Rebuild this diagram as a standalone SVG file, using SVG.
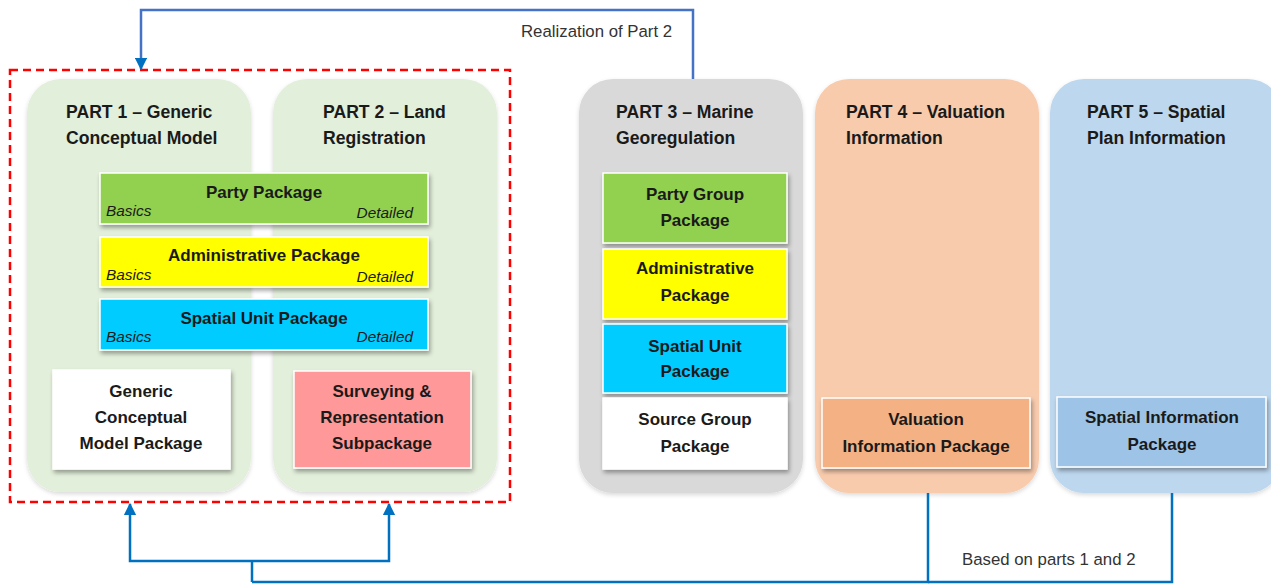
<svg xmlns="http://www.w3.org/2000/svg" width="1271" height="584" viewBox="0 0 1271 584">
<style>
.t{font-family:"Liberation Sans",Arial,sans-serif;font-weight:bold;font-size:17px;fill:#1a1a1a}
.h{font-size:17.6px}
.c{text-anchor:middle}
.i{font-family:"Liberation Sans",Arial,sans-serif;font-style:italic;font-size:15.4px;fill:#1a1a1a}
.lab{font-family:"Liberation Sans",Arial,sans-serif;font-size:16.8px;fill:#333}
.box{stroke:#fff;stroke-width:1.5;filter:url(#sh)}
.cont{filter:url(#csh)}
.wire{fill:none;stroke:#0070C0;stroke-width:2.5}
</style>
<defs>
<filter id="sh" x="-10%" y="-10%" width="130%" height="140%"><feDropShadow dx="1.5" dy="3" stdDeviation="2" flood-color="#000" flood-opacity="0.35"/></filter>
<filter id="csh" x="-10%" y="-10%" width="130%" height="130%"><feDropShadow dx="0" dy="2" stdDeviation="2" flood-color="#000" flood-opacity="0.15"/></filter>
<marker id="ah" viewBox="0 0 10 10" refX="9" refY="5" markerWidth="5" markerHeight="5" orient="auto-start-reverse"><path d="M0,0 L10,5 L0,10 z" fill="#0070C0"/></marker>
</defs>
<rect width="1271" height="584" fill="#fff"/>
<g id="part1"><rect class="cont" x="27" y="79" width="224" height="413" rx="34" fill="#E2EFDA"/><text class="t h" x="66" y="118">PART 1 – Generic</text><text class="t h" x="66" y="144">Conceptual Model</text></g>
<g id="part2"><rect class="cont" x="273" y="79" width="224" height="413" rx="34" fill="#E2EFDA"/><text class="t h" x="323" y="118">PART 2 – Land</text><text class="t h" x="323" y="144">Registration</text></g>
<g id="part3"><rect class="cont" x="579" y="79" width="224" height="414" rx="34" fill="#D9D9D9"/><text class="t h" x="616" y="118">PART 3 – Marine</text><text class="t h" x="616" y="144">Georegulation</text></g>
<g id="part4"><rect class="cont" x="815" y="79" width="224" height="414" rx="34" fill="#F8CBAD"/><text class="t h" x="846" y="118">PART 4 – Valuation</text><text class="t h" x="846" y="144">Information</text></g>
<g id="part5"><rect class="cont" x="1050" y="79" width="232" height="414" rx="34" fill="#BDD7EE"/><text class="t h" x="1087" y="118">PART 5 – Spatial</text><text class="t h" x="1087" y="144">Plan Information</text></g>
<g id="boundary"><rect x="10" y="70" width="500" height="432" fill="none" stroke="#FF0000" stroke-width="2.5" stroke-dasharray="8,5"/></g>
<g id="party-package"><rect class="box" x="100" y="173" width="328" height="51" fill="#92D050"/><text class="t c" x="264" y="198">Party Package</text><text class="i" x="106" y="216">Basics</text><text class="i" x="413" y="218" text-anchor="end">Detailed</text></g>
<g id="administrative-package"><rect class="box" x="100" y="237" width="328" height="50" fill="#FFFF00"/><text class="t c" x="264" y="261">Administrative Package</text><text class="i" x="106" y="280">Basics</text><text class="i" x="413" y="282" text-anchor="end">Detailed</text></g>
<g id="spatial-unit-package"><rect class="box" x="100" y="299" width="328" height="51" fill="#00CCFF"/><text class="t c" x="264" y="324">Spatial Unit Package</text><text class="i" x="106" y="342">Basics</text><text class="i" x="413" y="342" text-anchor="end">Detailed</text></g>
<g id="generic-package"><rect class="box" x="53" y="370" width="177" height="99" fill="#FFFFFF"/><text class="t c" x="141" y="397">Generic</text><text class="t c" x="141" y="423">Conceptual</text><text class="t c" x="141" y="449">Model Package</text></g>
<g id="surveying-subpackage"><rect class="box" x="294" y="371" width="177" height="97" fill="#FF9999"/><text class="t c" x="382" y="397">Surveying &amp;</text><text class="t c" x="382" y="423">Representation</text><text class="t c" x="382" y="449">Subpackage</text></g>
<g id="party-group-package"><rect class="box" x="603" y="173" width="184" height="70" fill="#92D050"/><text class="t c" x="695" y="200">Party Group</text><text class="t c" x="695" y="226">Package</text></g>
<g id="p3-administrative-package"><rect class="box" x="603" y="249" width="184" height="70" fill="#FFFF00"/><text class="t c" x="695" y="274">Administrative</text><text class="t c" x="695" y="301">Package</text></g>
<g id="p3-spatial-unit-package"><rect class="box" x="603" y="324" width="184" height="69" fill="#00CCFF"/><text class="t c" x="695" y="352">Spatial Unit</text><text class="t c" x="695" y="377">Package</text></g>
<g id="source-group-package"><rect class="box" x="603" y="398" width="184" height="71" fill="#FFFFFF"/><text class="t c" x="695" y="425">Source Group</text><text class="t c" x="695" y="452">Package</text></g>
<g id="valuation-information-package"><rect class="box" x="822" y="398" width="208" height="70" fill="#F4B183"/><text class="t c" x="926" y="425">Valuation</text><text class="t c" x="926" y="452">Information Package</text></g>
<g id="spatial-information-package"><rect class="box" x="1057" y="397" width="209" height="70" fill="#9DC3E6"/><text class="t c" x="1162" y="423">Spatial Information</text><text class="t c" x="1162" y="450">Package</text></g>
<g id="connectors">
<path class="wire" style="stroke:#4472C4" d="M693,79 V10 H141 V69" marker-end="url(#ah)"/>
<path class="wire" d="M928,493 V582 H252"/>
<path class="wire" d="M1172,493 V582 H928"/>
<path class="wire" d="M252,582 V561"/>
<path class="wire" d="M252,561 H130 V504" marker-end="url(#ah)"/>
<path class="wire" d="M252,561 H389 V504" marker-end="url(#ah)"/>
<text class="lab" x="521" y="37">Realization of Part 2</text>
<text class="lab" x="962" y="565">Based on parts 1 and 2</text>
</g>
</svg>
